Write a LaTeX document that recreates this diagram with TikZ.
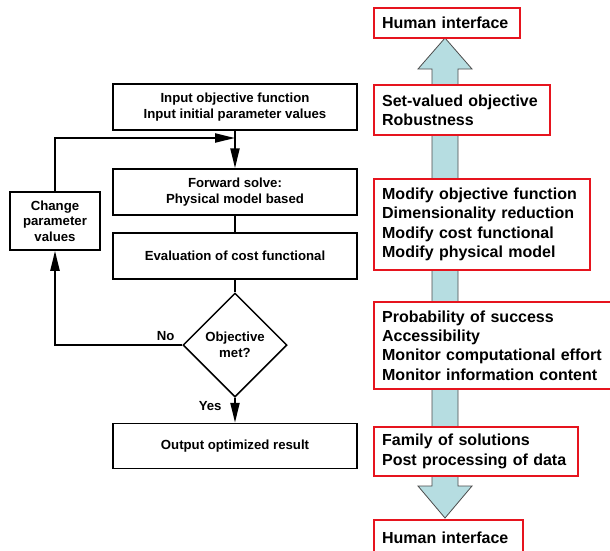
\documentclass[tikz,border=0pt]{standalone}
\usepackage{fontspec}
\setmainfont{Liberation Sans}
\usepackage{tikz}
\usetikzlibrary{shapes.geometric,arrows.meta}
\definecolor{arrowblue}{RGB}{182,221,225}
\definecolor{boxred}{RGB}{230,20,30}

\begin{document}
\begin{tikzpicture}[x=1pt,y=-1pt,
    lfont/.style={font=\fontsize{13.2}{15.5}\selectfont\bfseries},
    bbox/.style={draw, line width=1.5pt, fill=white, minimum width=244, minimum height=46, lfont, align=center},
    rbox/.style={draw=boxred, line width=2.3pt, fill=white, text width=#1, align=left, inner xsep=8, font=\fontsize{16}{19.3}\selectfont\bfseries, anchor=west},
    arr/.style={line width=2.2pt, -{Triangle[length=20pt,width=9pt]}},
    ln/.style={line width=2.2pt}]
    \useasboundingbox (0,0) rectangle (610,550);
    \fill[white] (0,0) rectangle (610,550);

    % flow chart
    \node[bbox] (input) at (235,107) {Input objective function\\Input initial parameter values};
    \node[bbox] (fwd) at (235,192) {Forward solve:\\Physical model based};
    \node[bbox] (eval) at (235,256) {Evaluation of cost functional};
    \node[draw, line width=1.5pt, diamond, aspect=1, inner sep=0pt, minimum size=104, lfont, align=center] (obj) at (235,345) {Objective\\met?};
    \node[bbox, minimum height=45] (out) at (235,446) {Output optimized result};
    \node[bbox, minimum width=90, minimum height=58] (change) at (55,221) {Change\\parameter\\values};
    \coordinate (merge) at (235,138);

    \draw[arr] (input) -- (fwd);
    \draw[ln] (fwd) -- (eval);
    \draw[ln] (eval) -- (obj);
    \draw[arr] (obj) -- node[left, pos=0.35, xshift=-9pt, lfont] {Yes} (out);
    \draw[arr] (obj.west) -| node[above, pos=0.065, lfont] {No} (change.south);
    \draw[arr] (change.north) |- (merge);

    % big arrow
    \draw[fill=arrowblue, draw=black!70, line width=0.8pt] (445,38) -- (472,69) -- (458,69) -- (458,486) -- (472,486) -- (445,518)
        -- (418,486) -- (432,486) -- (432,69) -- (418,69) -- cycle;

    % red boxes
    \node[rbox=130, minimum height=30] (hitop) at (373,23) {Human interface};
    \node[rbox=160, minimum height=50] (setval) at (373,110) {Set-valued objective\\Robustness};
    \node[rbox=200, minimum height=91] (modify) at (373,224.5) {Modify objective function\\Dimensionality reduction\\Modify cost functional\\Modify physical model};
    \node[rbox=226, minimum height=87] (prob) at (373,345.5) {Probability of success\\Accessibility\\Monitor computational effort\\Monitor information content};
    \node[rbox=188, minimum height=49] (family) at (373,451.5) {Family of solutions\\Post processing of data};
    \node[rbox=133, minimum height=36] (hibot) at (373,538) {Human interface};
\end{tikzpicture}
\end{document}
